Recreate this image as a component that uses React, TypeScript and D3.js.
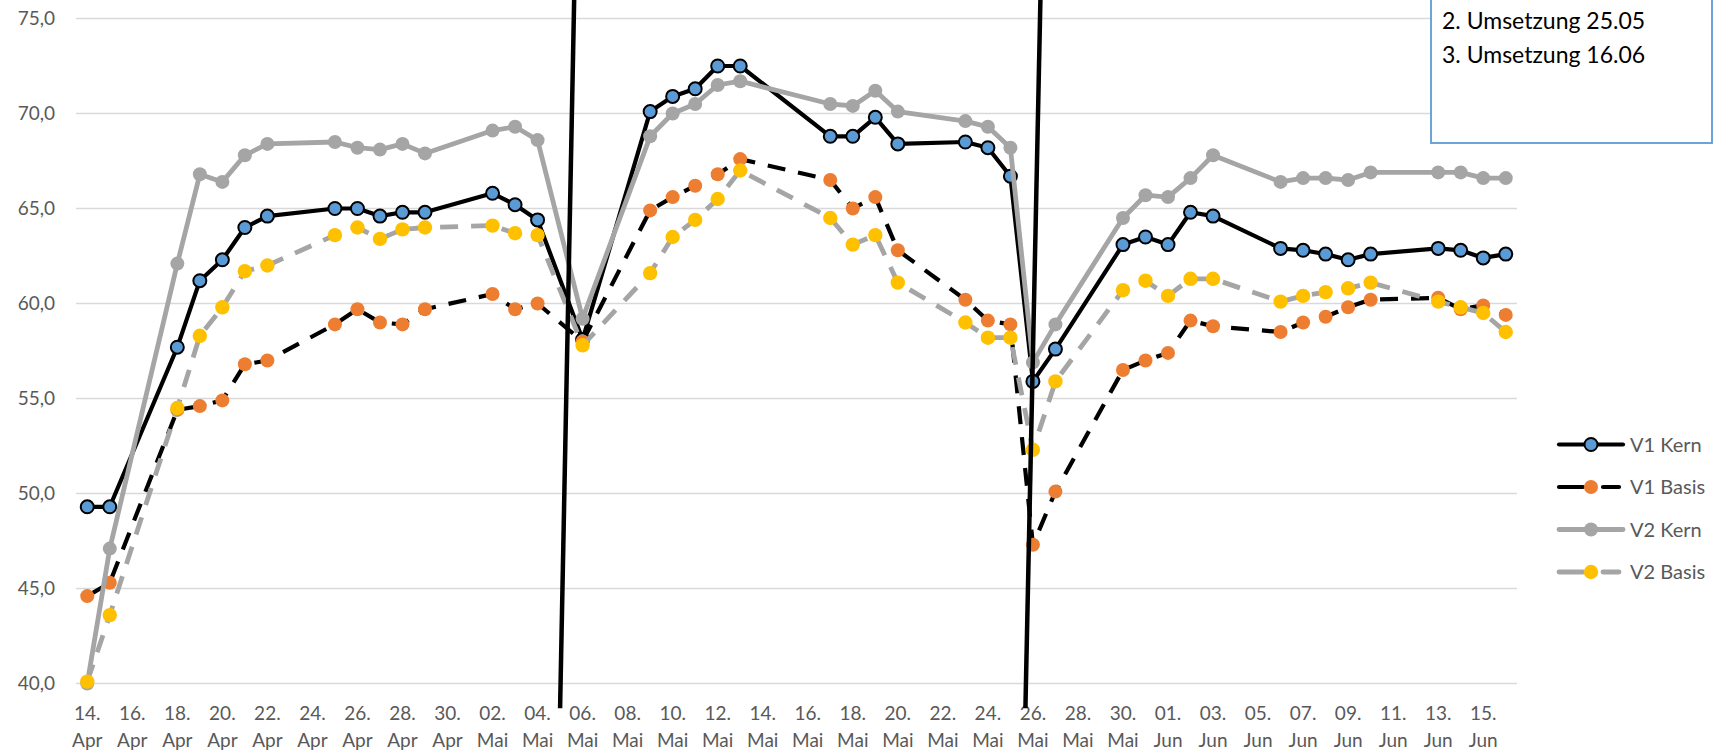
import React from "react";
import * as d3 from "d3";

// ---------- data ----------
const dates = [
  "2020-04-14", "2020-04-15", "2020-04-18", "2020-04-19", "2020-04-20", "2020-04-21", "2020-04-22",
  "2020-04-25", "2020-04-26", "2020-04-27", "2020-04-28", "2020-04-29",
  "2020-05-02", "2020-05-03", "2020-05-04", "2020-05-06", "2020-05-09", "2020-05-10", "2020-05-11",
  "2020-05-12", "2020-05-13", "2020-05-17", "2020-05-18", "2020-05-19", "2020-05-20", "2020-05-23",
  "2020-05-24", "2020-05-25", "2020-05-26", "2020-05-27", "2020-05-30", "2020-05-31",
  "2020-06-01", "2020-06-02", "2020-06-03", "2020-06-06", "2020-06-07", "2020-06-08", "2020-06-09",
  "2020-06-10", "2020-06-13", "2020-06-14", "2020-06-15", "2020-06-16",
];

const v1Kern = [
  49.3, 49.3, 57.7, 61.2, 62.3, 64.0, 64.6, 65.0, 65.0, 64.6, 64.8, 64.8,
  65.8, 65.2, 64.4, 58.1, 70.1, 70.9, 71.3, 72.5, 72.5, 68.8, 68.8, 69.8, 68.4, 68.5,
  68.2, 66.7, 55.9, 57.6, 63.1, 63.5,
  63.1, 64.8, 64.6, 62.9, 62.8, 62.6, 62.3, 62.6, 62.9, 62.8, 62.4, 62.6,
];
const v1Basis = [
  44.6, 45.3, 54.4, 54.6, 54.9, 56.8, 57.0, 58.9, 59.7, 59.0, 58.9, 59.7,
  60.5, 59.7, 60.0, 58.0, 64.9, 65.6, 66.2, 66.8, 67.6, 66.5, 65.0, 65.6, 62.8, 60.2,
  59.1, 58.9, 47.3, 50.1, 56.5, 57.0,
  57.4, 59.1, 58.8, 58.5, 59.0, 59.3, 59.8, 60.2, 60.3, 59.7, 59.9, 59.4,
];
const v2Kern = [
  40.0, 47.1, 62.1, 66.8, 66.4, 67.8, 68.4, 68.5, 68.2, 68.1, 68.4, 67.9,
  69.1, 69.3, 68.6, 59.2, 68.8, 70.0, 70.5, 71.5, 71.7, 70.5, 70.4, 71.2, 70.1, 69.6,
  69.3, 68.2, 56.9, 58.9, 64.5, 65.7,
  65.6, 66.6, 67.8, 66.4, 66.6, 66.6, 66.5, 66.9, 66.9, 66.9, 66.6, 66.6,
];
const v2Basis = [
  40.1, 43.6, 54.5, 58.3, 59.8, 61.7, 62.0, 63.6, 64.0, 63.4, 63.9, 64.0,
  64.1, 63.7, 63.6, 57.8, 61.6, 63.5, 64.4, 65.5, 67.0, 64.5, 63.1, 63.6, 61.1, 59.0,
  58.2, 58.2, 52.3, 55.9, 60.7, 61.2,
  60.4, 61.3, 61.3, 60.1, 60.4, 60.6, 60.8, 61.1, 60.1, 59.8, 59.5, 58.5,
];

const seriesNames = ["V1 Kern", "V1 Basis", "V2 Kern", "V2 Basis"];
const yTicks = [40, 45, 50, 55, 60, 65, 70, 75];
const firstTick = "2020-04-14";
const lastTick = "2020-06-15";
const monthNames = ["Jan", "Feb", "Mär", "Apr", "Mai", "Jun", "Jul", "Aug", "Sep", "Okt", "Nov", "Dez"];
const boxLines = ["1. Umsetzung 05.05", "2. Umsetzung 25.05", "3. Umsetzung 16.06"];
// hand drawn vertical markers (date/value of each end)
const markerLines = [
  { fromDate: "2020-05-05T00:00:00Z", fromValue: 38.7, toDate: "2020-05-05T15:00:00Z", toValue: 76 },
  { fromDate: "2020-05-25T16:00:00Z", fromValue: 38.7, toDate: "2020-05-26T08:00:00Z", toValue: 76 },
];

// ---------- layout ----------
const W = 1722;
const H = 754;
const plotLeft = 76;
const plotRight = 1517;
const plotTop = 18.5;
const plotBottom = 683.5;
const FONT = "Lato, 'Open Sans', sans-serif";
const LABEL = "#595959";

const parse = (s: string) => new Date(s.length > 10 ? s : s + "T00:00:00Z");
const HALF_DAY = 12 * 3600 * 1000;

const styles = [
  { stroke: "#000000", width: 4.2, dash: null, fill: "#5B9BD5", mStroke: "#000000", mWidth: 2, r: 6.5 },
  { stroke: "#000000", width: 4.2, dash: "18 13", fill: "#ED7D31", mStroke: "#ED7D31", mWidth: 0, r: 7 },
  { stroke: "#A5A5A5", width: 4.8, dash: null, fill: "#A5A5A5", mStroke: "#A5A5A5", mWidth: 0, r: 7 },
  { stroke: "#A5A5A5", width: 4.8, dash: "18 13", fill: "#FFC000", mStroke: "#FFC000", mWidth: 0, r: 7.2 },
];

export default function App() {
  const dateObjs = dates.map(parse);
  const x = d3
    .scaleUtc()
    .domain([new Date(+parse(dates[0]) - HALF_DAY), new Date(+parse(dates[dates.length - 1]) + HALF_DAY)])
    .range([plotLeft, plotRight]);
  const y = d3.scaleLinear().domain([40, 75]).range([plotBottom, plotTop]);

  const allSeries = [v1Kern, v1Basis, v2Kern, v2Basis];
  const line = d3
    .line<number>()
    .x((_, i) => x(dateObjs[i]))
    .y((v) => y(v));

  const ticks = d3
    .utcDay
    .range(parse(firstTick), new Date(+parse(lastTick) + 1000))
    .filter((_, i) => i % 2 === 0);

  const fmt = d3.format(".1f");

  const legendX0 = 1557;
  const legendX1 = 1625;
  const legendY0 = 444.5;
  const legendDy = 42.5;

  return (
    <div style={{ position: "fixed", left: 0, top: 0, width: W, height: H, background: "#fff" }}>
      <svg width={W} height={H} style={{ display: "block" }} fontFamily={FONT}>
        <rect width={W} height={H} fill="#fff" />
        {/* gridlines */}
        {yTicks.map((t) => (
          <line key={t} x1={plotLeft} x2={plotRight} y1={y(t)} y2={y(t)} stroke="#D9D9D9" strokeWidth={1.5} />
        ))}
        {/* y labels */}
        {yTicks.map((t) => (
          <text key={"yl" + t} x={55} y={y(t)} dy="0.36em" textAnchor="end" fontSize={19} fill={LABEL}>
            {fmt(t).replace(".", ",")}
          </text>
        ))}
        {/* x labels */}
        {ticks.map((d) => (
          <g key={+d} transform={`translate(${x(d)},0)`}>
            <text y={719.5} textAnchor="middle" fontSize={19} fill={LABEL}>
              {String(d.getUTCDate()).padStart(2, "0") + "."}
            </text>
            <text y={747.3} textAnchor="middle" fontSize={19} fill={LABEL}>
              {monthNames[d.getUTCMonth()]}
            </text>
          </g>
        ))}
        {/* series */}
        {allSeries.map((vals, si) => {
          const st = styles[si];
          return (
            <g key={seriesNames[si]}>
              <path
                d={line(vals) || ""}
                fill="none"
                stroke={st.stroke}
                strokeWidth={st.width}
                strokeDasharray={st.dash || undefined}
                strokeLinejoin="round"
              />
              {vals.map((v, i) => (
                <circle
                  key={i}
                  cx={x(dateObjs[i])}
                  cy={y(v)}
                  r={st.r}
                  fill={st.fill}
                  stroke={st.mWidth ? st.mStroke : "none"}
                  strokeWidth={st.mWidth}
                />
              ))}
            </g>
          );
        })}
        {/* hand drawn marker lines */}
        {markerLines.map((m, i) => (
          <line
            key={"m" + i}
            x1={x(parse(m.fromDate))}
            y1={y(m.fromValue)}
            x2={x(parse(m.toDate))}
            y2={y(m.toValue)}
            stroke="#000"
            strokeWidth={4.5}
          />
        ))}
        {/* text box */}
        <rect x={1431} y={-60} width={281} height={203} fill="#fff" stroke="#5B9BD5" strokeWidth={1.8} />
        {boxLines.map((t, i) => (
          <text key={t} x={1442} y={-5 + i * 34} fontSize={23} fill="#000">
            {t}
          </text>
        ))}
        {/* legend */}
        {seriesNames.map((n, i) => {
          const st = styles[i];
          const ly = legendY0 + i * legendDy;
          const mid = (legendX0 + legendX1) / 2;
          return (
            <g key={"lg" + n}>
              {st.dash ? (
                <>
                  <line x1={legendX0 + 2} x2={mid - 8} y1={ly} y2={ly} stroke={st.stroke} strokeWidth={st.width} strokeLinecap="round" />
                  <line x1={mid + 12} x2={legendX1 - 6} y1={ly} y2={ly} stroke={st.stroke} strokeWidth={st.width} strokeLinecap="round" />
                </>
              ) : (
                <line x1={legendX0 + 2} x2={legendX1 - 2} y1={ly} y2={ly} stroke={st.stroke} strokeWidth={st.width} strokeLinecap="round" />
              )}
              <circle cx={mid} cy={ly} r={st.r} fill={st.fill} stroke={st.mWidth ? st.mStroke : "none"} strokeWidth={st.mWidth} />
              <text x={1630} y={ly} dy="0.36em" fontSize={20} fill={LABEL}>
                {n}
              </text>
            </g>
          );
        })}
      </svg>
    </div>
  );
}
